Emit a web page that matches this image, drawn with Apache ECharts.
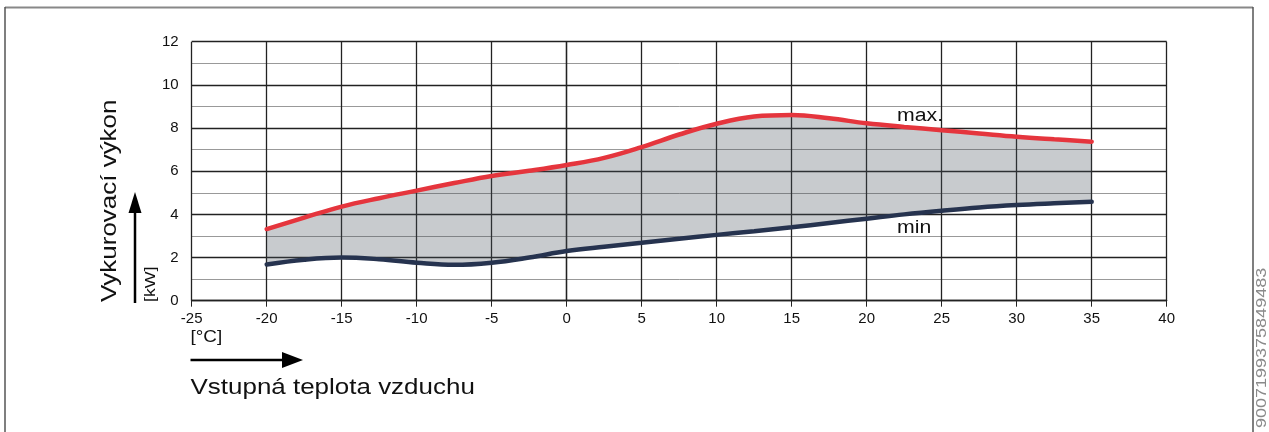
<!DOCTYPE html>
<html>
<head>
<meta charset="utf-8">
<script src="https://cdn.jsdelivr.net/npm/echarts@6/dist/echarts.min.js"></script>
<style>
  html, body { margin: 0; padding: 0; background: #fff; }
  #chart { width: 1269px; height: 432px; }
</style>
</head>
<body>
<div id="chart"></div>
<script>
// vstupná teplota vzduchu [°C]
const temps = [-20, -17.5, -15, -12.5, -10, -7.5, -5, -2.5, 0, 2.5, 5, 7.5, 10, 12.5, 15, 17.5, 20, 22.5, 25, 27.5, 30, 32.5, 35]
// vykurovací výkon max. [kW]
const maxKw = [3.32, 3.85, 4.36, 4.75, 5.1, 5.45, 5.78, 6.02, 6.29, 6.62, 7.12, 7.7, 8.2, 8.53, 8.6, 8.45, 8.22, 8.05, 7.9, 7.75, 7.6, 7.48, 7.37]
// vykurovací výkon min [kW]
const minKw = [1.68, 1.9, 2.0, 1.92, 1.76, 1.66, 1.76, 2.0, 2.3, 2.5, 2.68, 2.87, 3.05, 3.22, 3.4, 3.6, 3.8, 4.0, 4.17, 4.32, 4.43, 4.51, 4.58]

const FONT = 'Liberation Sans, Arial, sans-serif'
const STRETCH = 1.18

const myChart = echarts.init(document.getElementById('chart'))

// šedé pásmo medzi min a max
function renderBand(params, api) {
  if (params.dataIndex !== 0) return null
  const top = temps.map((t, i) => api.coord([t, maxKw[i]]))
  const bottom = temps.map((t, i) => api.coord([t, minKw[i]])).reverse()
  return {
    type: 'polygon',
    shape: { points: top.concat(bottom) },
    style: { fill: '#48525c', opacity: 0.3 }
  }
}

const option = {
  animation: false,
  backgroundColor: '#fff',
  grid: {
    left: 191.7,
    top: 41.7,
    width: 975,
    height: 259,
    containLabel: false
  },
  xAxis: {
    type: 'value',
    min: -25,
    max: 40,
    interval: 5,
    axisLine: { show: true, onZero: false, lineStyle: { color: '#222', width: 1.3 } },
    axisTick: { show: true, length: 6, lineStyle: { color: '#222' } },
    axisLabel: { color: '#111', fontSize: 15, fontFamily: FONT, margin: 11 },
    splitLine: { show: true, lineStyle: { color: '#222', width: 1.3 } }
  },
  yAxis: {
    type: 'value',
    min: 0,
    max: 12,
    interval: 2,
    axisLine: { show: true, lineStyle: { color: '#222', width: 1.3 } },
    axisTick: { show: true, length: 8, lineStyle: { color: '#222' } },
    axisLabel: { color: '#111', fontSize: 15, fontFamily: FONT, margin: 13 },
    splitLine: { show: true, lineStyle: { color: '#222', width: 1.3 } },
    minorTick: { show: false, splitNumber: 2 },
    minorSplitLine: { show: true, lineStyle: { color: '#999', width: 1 } }
  },
  series: [
    {
      name: 'pásmo',
      type: 'custom',
      z: 1,
      renderItem: renderBand,
      data: temps.map((t, i) => [t, minKw[i], maxKw[i]]),
      encode: { x: 0, y: [1, 2] }
    },
    {
      name: 'min',
      type: 'line',
      smooth: 0.4,
      symbol: 'none',
      z: 3,
      data: temps.map((t, i) => [t, minKw[i]]),
      lineStyle: { color: '#26334f', width: 4.5, cap: 'round' }
    },
    {
      name: 'max.',
      type: 'line',
      smooth: 0.4,
      symbol: 'none',
      z: 3,
      data: temps.map((t, i) => [t, maxKw[i]]),
      lineStyle: { color: '#e5353d', width: 4.5, cap: 'round' }
    }
  ],
  graphic: [
    // rámik
    { type: 'line', shape: { x1: 5, y1: 7.5, x2: 1253, y2: 7.5 }, style: { stroke: '#888', lineWidth: 2 } },
    { type: 'line', shape: { x1: 5, y1: 7, x2: 5, y2: 432 }, style: { stroke: '#555', lineWidth: 1.5 } },
    { type: 'line', shape: { x1: 1253, y1: 7, x2: 1253, y2: 432 }, style: { stroke: '#555', lineWidth: 1.5 } },
    // os y
    {
      type: 'text', x: 110, y: 302, rotation: Math.PI / 2, scaleX: STRETCH,
      style: { text: 'Vykurovací výkon', font: '22px ' + FONT, fill: '#111', textAlign: 'left', textVerticalAlign: 'middle' }
    },
    {
      type: 'text', x: 151, y: 302, rotation: Math.PI / 2, scaleX: STRETCH,
      style: { text: '[kW]', font: '15px ' + FONT, fill: '#111', textAlign: 'left', textVerticalAlign: 'middle' }
    },
    { type: 'line', shape: { x1: 135, y1: 303, x2: 135, y2: 210 }, style: { stroke: '#000', lineWidth: 2.5 } },
    { type: 'polygon', shape: { points: [[135, 192], [128.5, 213], [141.5, 213]] }, style: { fill: '#000' } },
    // os x
    {
      type: 'text', x: 190.5, y: 338, scaleX: STRETCH,
      style: { text: '[°C]', font: '16px ' + FONT, fill: '#111', textAlign: 'left', textVerticalAlign: 'middle' }
    },
    { type: 'line', shape: { x1: 190.5, y1: 360, x2: 284, y2: 360 }, style: { stroke: '#000', lineWidth: 2.5 } },
    { type: 'polygon', shape: { points: [[303, 360], [282, 352], [282, 368]] }, style: { fill: '#000' } },
    {
      type: 'text', x: 190.5, y: 388, scaleX: STRETCH,
      style: { text: 'Vstupná teplota vzduchu', font: '22px ' + FONT, fill: '#111', textAlign: 'left', textVerticalAlign: 'middle' }
    },
    // popisky kriviek
    { type: 'text', x: 897, y: 116, scaleX: STRETCH, style: { text: 'max.', font: '18px ' + FONT, fill: '#111', textAlign: 'left', textVerticalAlign: 'middle' } },
    { type: 'text', x: 897, y: 228, scaleX: STRETCH, style: { text: 'min', font: '18px ' + FONT, fill: '#111', textAlign: 'left', textVerticalAlign: 'middle' } },
    // číslo obrázka
    {
      type: 'text', x: 1262, y: 428, rotation: Math.PI / 2, scaleX: 1.2,
      style: { text: '9007199375849483', font: '15px ' + FONT, fill: '#8a8a8a', textAlign: 'left', textVerticalAlign: 'middle' }
    }
  ]
}

myChart.setOption(option)
</script>
</body>
</html>
